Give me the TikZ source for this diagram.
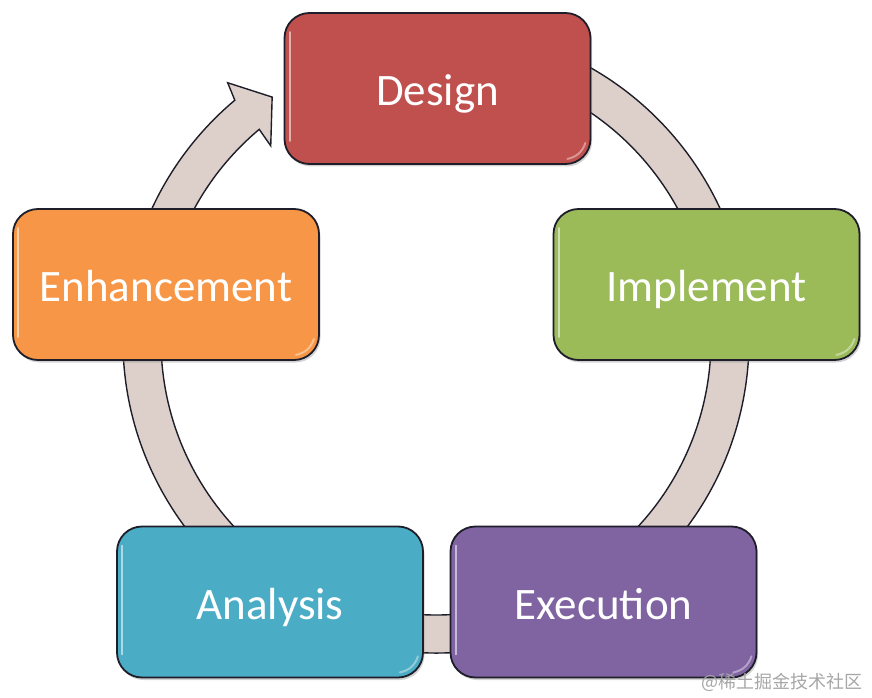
\documentclass[tikz,border=0pt]{standalone}
\usepackage{fontspec}
\setmainfont{Carlito}
\newfontfamily\cjkfont{Noto Sans CJK SC}
\usetikzlibrary{shadows,calc}
\definecolor{cDesign}{HTML}{C0504D}
\definecolor{cImpl}{HTML}{9BBB59}
\definecolor{cEnh}{HTML}{F79646}
\definecolor{cAna}{HTML}{4BACC6}
\definecolor{cExe}{HTML}{8064A2}
\definecolor{ringfill}{HTML}{DDD0CB}
\definecolor{edge}{HTML}{1E1E2A}
\tikzset{
  stagebox/.style={draw=edge, line width=1.8pt, rounded corners=25pt,
    minimum width=306pt, minimum height=151pt, inner sep=0pt,
    text height=34pt, text depth=0pt,
    text=white, font=\fontsize{45}{50}\selectfont,
    drop shadow={shadow xshift=1.5pt, shadow yshift=-2.5pt, opacity=0.35}},
  gloss/.style={white, opacity=0.55, line width=2pt, line cap=round},
  ringstyle/.style={fill=ringfill, draw=edge, line width=1.4pt, line join=miter}
}
\begin{document}
\begin{tikzpicture}[x=1pt,y=1pt]
\useasboundingbox (0,0) rectangle (872,697);
\coordinate (c) at (436,357);
% ring with arrow head
\path[ringstyle]
  ([shift={(c)}]80:313) arc[start angle=80, end angle=-230, radius=313]
  -- ([shift={(c)}]129:331)
  -- ([shift={(c)}]124:293)
  -- ([shift={(c)}]130.4:255)
  -- ([shift={(c)}]130:275)
  arc[start angle=-230, end angle=80, radius=275] -- cycle;
% stages
\node[stagebox, fill=cDesign] (design) at (437.5,608.5) {Design};
\node[stagebox, fill=cImpl] (implement) at (706.5,412.5) {Implement};
\node[stagebox, fill=cEnh] (enhancement) at (166,412.5) {Enhancement};
\node[stagebox, fill=cAna] (analysis) at (270,95) {Analysis};
\node[stagebox, fill=cExe] (execution) at (603.5,95) {Execution};
% glossy highlights
\foreach \n in {design,implement,enhancement,analysis,execution}{
  \draw[gloss] ([xshift=6pt,yshift=-20pt]\n.north west) -- ([xshift=6pt,yshift=24pt]\n.south west);
  \draw[gloss, opacity=0.4] ([xshift=-24pt,yshift=6pt]\n.south east) to[bend right=30] ([xshift=-6pt,yshift=22pt]\n.south east);
}
% watermark
\node[anchor=east, text=black!35, font=\cjkfont\fontsize{18}{20}\selectfont, inner sep=0pt] (wm) at (863,15) {@稀土掘金技术社区};
\end{tikzpicture}
\end{document}
